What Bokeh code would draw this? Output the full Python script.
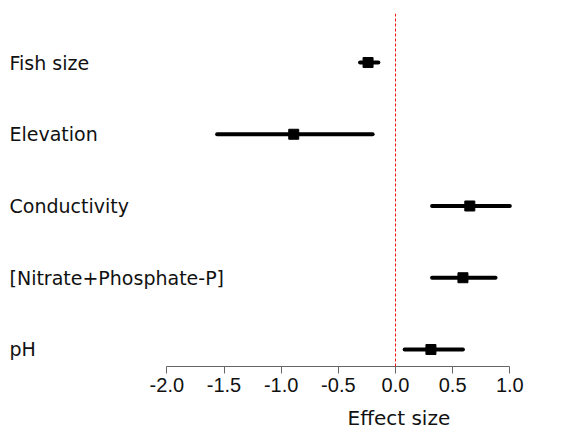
from bokeh.plotting import figure
from bokeh.models import ColumnDataSource, Range1d, Span, FixedTicker, Title
from bokeh.core.properties import value
from bokeh.embed import file_html
from bokeh.resources import INLINE

# ---- data ----
predictors = ["Fish size", "Elevation", "Conductivity", "[Nitrate+Phosphate-P]", "pH"]
row_pos = [5, 4, 3, 2, 1]
effect = [-0.24, -0.89, 0.65, 0.59, 0.31]
ci_low = [-0.31, -1.56, 0.32, 0.32, 0.08]
ci_high = [-0.15, -0.20, 1.00, 0.875, 0.59]
tick_values = [-2.0, -1.5, -1.0, -0.5, 0.0, 0.5, 1.0]
tick_labels = ["-2.0", "-1.5", "-1.0", "-0.5", "0.0", "0.5", "1.0"]
x_title = "Effect size"

X0, X1 = -3.385, 1.592

src = ColumnDataSource(dict(name=predictors, y=row_pos, eff=effect, lo=ci_low, hi=ci_high,
                            lx=[X0] * len(predictors)))

p = figure(width=577, height=431, output_backend="svg", toolbar_location=None,
           x_range=Range1d(X0, X1), y_range=Range1d(0.763, 5.683),
           y_axis_location=None, min_border_left=8, min_border_right=0,
           min_border_top=13, min_border_bottom=65)
p.outline_line_color = None
p.xgrid.visible = False
p.ygrid.visible = False
p.background_fill_color = "white"
p.border_fill_color = "white"

# zero line
p.add_layout(Span(location=0, dimension="height", line_color="#ee1111",
                  line_width=1, line_dash="3 2"))

# CIs and points
p.segment(x0="lo", y0="y", x1="hi", y1="y", source=src, line_color="black",
          line_width=4, line_cap="round")
p.scatter(x="eff", y="y", source=src, marker="square", size=10,
          fill_color="black", line_color="black")

# category labels
p.text(x="lx", y="y", text="name", source=src, text_font=value("DejaVu Sans"),
       text_font_size="19px", text_color="#111111", text_align="left",
       text_baseline="middle", x_offset=1, y_offset=0)

# x axis
ax = p.xaxis[0]
ax.bounds = (-2, 1)
ax.ticker = FixedTicker(ticks=tick_values)
ax.major_label_overrides = {v: s for v, s in zip(tick_values, tick_labels)}
ax.minor_tick_line_color = None
ax.major_tick_in = 0
ax.major_tick_out = 7
ax.axis_line_color = "#666666"
ax.major_tick_line_color = "#666666"
ax.major_label_text_font = "Liberation Sans"
ax.major_label_text_font_size = "20px"
ax.major_label_text_color = "#111111"
ax.major_label_standoff = 4
# small spacer between tick labels and the axis title below
ax.axis_label = " "
ax.axis_label_text_font_size = "1px"
ax.axis_label_standoff = 7

# axis title, placed near zero
p.add_layout(Title(text=x_title, align="left", offset=339, vertical_align="top",
                   text_font="DejaVu Sans", text_font_size="20px",
                   text_font_style="normal", text_color="#111111",
                   text_line_height=1.0, standoff=0), "below")

open("out.html", "w").write(file_html(p, INLINE))
